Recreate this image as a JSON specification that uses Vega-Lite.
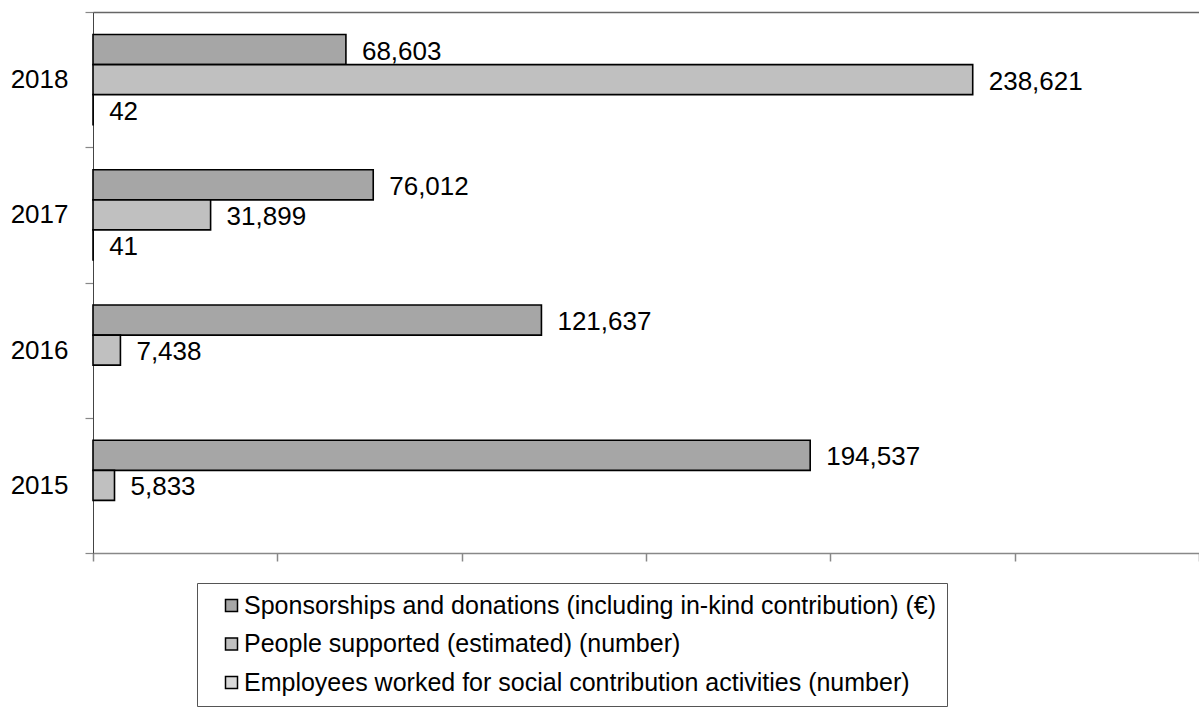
{
  "$schema": "https://vega.github.io/schema/vega-lite/v6.json",
  "width": 1106,
  "height": 541,
  "autosize": {"type": "none"},
  "padding": {"left": 93, "top": 12, "right": 0, "bottom": 162},
  "background": "white",
  "config": {
    "view": {"stroke": null},
    "font": "Liberation Sans"
  },
  "data": {
    "values": [
      {"year": "2018", "series": "Sponsorships and donations (including in-kind contribution) (€)", "value": 68603},
      {"year": "2018", "series": "People supported (estimated) (number)", "value": 238621},
      {"year": "2018", "series": "Employees worked for social contribution activities (number)", "value": 42},
      {"year": "2017", "series": "Sponsorships and donations (including in-kind contribution) (€)", "value": 76012},
      {"year": "2017", "series": "People supported (estimated) (number)", "value": 31899},
      {"year": "2017", "series": "Employees worked for social contribution activities (number)", "value": 41},
      {"year": "2016", "series": "Sponsorships and donations (including in-kind contribution) (€)", "value": 121637},
      {"year": "2016", "series": "People supported (estimated) (number)", "value": 7438},
      {"year": "2015", "series": "Sponsorships and donations (including in-kind contribution) (€)", "value": 194537},
      {"year": "2015", "series": "People supported (estimated) (number)", "value": 5833}
    ]
  },
  "encoding": {
    "y": {
      "field": "year",
      "type": "nominal",
      "sort": ["2018", "2017", "2016", "2015"],
      "scale": {"paddingInner": 0, "paddingOuter": 0},
      "axis": {
        "title": null,
        "tickBand": "extent",
        "tickColor": "#888888",
        "tickSize": 8,
        "tickWidth": 1.2,
        "domainColor": "#444444",
        "domainWidth": 1,
        "labelFontSize": 26,
        "labelColor": "#000000",
        "labelPadding": 17,
        "labelFont": "Liberation Sans"
      }
    },
    "yOffset": {
      "field": "series",
      "type": "nominal",
      "scale": {
        "domain": [
          "Sponsorships and donations (including in-kind contribution) (€)",
          "People supported (estimated) (number)",
          "Employees worked for social contribution activities (number)"
        ],
        "paddingInner": 0,
        "paddingOuter": 0.75
      }
    }
  },
  "layer": [
    {
      "mark": {"type": "bar", "stroke": "#000000", "strokeWidth": 1.6},
      "encoding": {
        "x": {
          "field": "value",
          "type": "quantitative",
          "scale": {"domain": [0, 300000], "nice": false},
          "axis": {
            "title": null,
            "values": [0, 50000, 100000, 150000, 200000, 250000, 300000],
            "labels": false,
            "grid": false,
            "tickColor": "#888888",
            "tickSize": 8,
            "tickWidth": 1.5,
            "domainColor": "#888888",
            "domainWidth": 1.5
          }
        },
        "color": {
          "field": "series",
          "type": "nominal",
          "scale": {
            "domain": [
              "Sponsorships and donations (including in-kind contribution) (€)",
              "People supported (estimated) (number)",
              "Employees worked for social contribution activities (number)"
            ],
            "range": ["#a6a6a6", "#c0c0c0", "#d9d9d9"]
          },
          "legend": {
            "title": null,
            "orient": "none",
            "legendX": 104,
            "legendY": 571,
            "direction": "vertical",
            "fillColor": "white",
            "strokeColor": "#555555",
            "padding": 10,
            "symbolType": "square",
            "symbolSize": 144,
            "symbolStrokeColor": "#000000",
            "symbolStrokeWidth": 1.5,
            "symbolOffset": 12,
            "labelOffset": 0,
            "labelFontSize": 25,
            "labelFont": "Liberation Sans",
            "labelColor": "#000000",
            "labelLimit": 900,
            "rowPadding": 12.5
          }
        }
      }
    },
    {
      "mark": {"type": "text", "align": "left", "baseline": "middle", "dx": 16, "dy": 2, "fontSize": 26, "font": "Liberation Sans", "color": "#000000"},
      "encoding": {
        "x": {
          "field": "value",
          "type": "quantitative",
          "axis": {
            "orient": "top",
            "title": null,
            "labels": false,
            "ticks": false,
            "grid": false,
            "domainColor": "#666666",
            "domainWidth": 1.5
          }
        },
        "text": {"field": "value", "type": "quantitative", "format": ","}
      }
    }
  ],
  "resolve": {"axis": {"x": "independent"}}
}
